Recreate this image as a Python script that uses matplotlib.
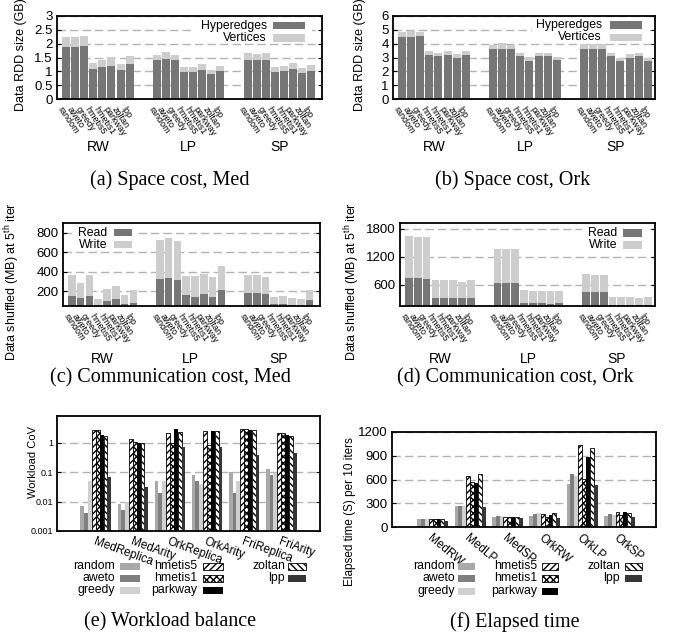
import matplotlib
matplotlib.use("Agg")
import matplotlib.pyplot as plt
from matplotlib.patches import Rectangle
from matplotlib.ticker import NullLocator
from matplotlib.transforms import ScaledTranslation, blended_transform_factory
import numpy as np

plt.rcParams["font.family"] = ["Liberation Sans", "DejaVu Sans"]
plt.rcParams["mathtext.default"] = "regular"
plt.rcParams["hatch.linewidth"] = 1.0

# ---------------- data ----------------
partitioners = ["random", "aweto", "greedy", "hmetis5", "hmetis1", "parkway", "zoltan", "lpp"]
apps = ["RW", "LP", "SP"]

# space cost (GB): rows = RW, LP, SP
med_hyperedges = [[1.89, 1.89, 1.90, 1.08, 1.17, 1.20, 1.05, 1.28],
                  [1.42, 1.46, 1.42, 0.99, 0.99, 1.05, 0.90, 1.01],
                  [1.41, 1.41, 1.41, 0.99, 1.01, 1.08, 0.95, 1.01]]
med_vertices = [[0.36, 0.36, 0.39, 0.23, 0.24, 0.31, 0.23, 0.29],
                [0.18, 0.24, 0.18, 0.17, 0.17, 0.22, 0.15, 0.19],
                [0.26, 0.23, 0.26, 0.17, 0.18, 0.22, 0.17, 0.22]]
ork_hyperedges = [[4.47, 4.47, 4.54, 3.16, 3.08, 3.16, 3.00, 3.16],
                  [3.59, 3.59, 3.59, 3.08, 2.74, 3.08, 3.08, 2.80],
                  [3.60, 3.60, 3.60, 3.08, 2.73, 3.00, 3.08, 2.73]]
ork_vertices = [[0.36, 0.43, 0.29, 0.29, 0.22, 0.29, 0.23, 0.29],
                [0.29, 0.44, 0.29, 0.22, 0.31, 0.22, 0.22, 0.20],
                [0.39, 0.39, 0.39, 0.22, 0.22, 0.23, 0.22, 0.22]]

# communication cost (MB shuffled at 5th iteration)
med_read = [[155, 135, 155, 40, 100, 120, 70, 80],
            [328, 338, 317, 162, 141, 172, 141, 214],
            [183, 183, 172, 69, 69, 59, 40, 110]]
med_write = [[214, 151, 214, 81, 124, 135, 93, 134],
             [393, 404, 394, 197, 218, 207, 207, 248],
             [186, 186, 176, 72, 83, 72, 81, 104]]
ork_read = [[750, 750, 730, 320, 320, 320, 320, 320],
            [645, 645, 645, 215, 215, 215, 195, 215],
            [450, 450, 450, 170, 170, 170, 170, 170]]
ork_write = [[900, 880, 900, 390, 390, 390, 345, 390],
             [725, 725, 725, 280, 255, 255, 275, 255],
             [385, 365, 365, 175, 175, 175, 150, 175]]

# workload balance (CoV)
cov_groups = ["MedReplica", "MedArity", "OrkReplica", "OrkArity", "FriReplica", "FriArity"]
cov_random = [0.007, 0.008, 0.05, 0.08, 0.10, 0.13]
cov_aweto = [0.004, 0.005, 0.02, 0.05, 0.02, 0.08]
cov_greedy = [0.05, 0.01, 0.05, 0.04, 0.05, 0.09]
cov_hmetis5 = [2.7, 1.3, 2.1, 2.4, 2.9, 2.1]
cov_hmetis1 = [2.7, 1.05, 0.95, 0.8, 2.8, 2.1]
cov_parkway = [1.8, 0.95, 2.8, 2.4, 2.7, 1.8]
cov_zoltan = [1.7, 0.95, 2.3, 2.4, 2.7, 1.65]
cov_lpp = [0.07, 0.03, 0.7, 0.7, 0.38, 0.45]

# elapsed time (s) per 10 iterations
time_groups = ["MedRW", "MedLP", "MedSP", "OrkRW", "OrkLP", "OrkSP"]
time_random = [95, 270, 130, 145, 540, 145]
time_aweto = [95, 260, 140, 170, 670, 170]
time_greedy = [95, 270, 140, 180, 645, 150]
time_hmetis5 = [95, 640, 125, 170, 1030, 190]
time_hmetis1 = [95, 570, 125, 125, 610, 150]
time_parkway = [95, 550, 125, 155, 880, 190]
time_zoltan = [95, 670, 125, 180, 1000, 180]
time_lpp = [80, 255, 115, 120, 525, 130]

# ---------------- styling ----------------
W, H = 688, 640
DARK = "#767676"
LIGHT = "#cdcdcd"
GRID = dict(linestyle=(0, (6, 3)), color="#b4b4b4", linewidth=1.0)
KEY_SIZE = 8.8

series_style = {
    "random": dict(color="#a9a9a9"),
    "aweto": dict(color="#7f7f7f"),
    "greedy": dict(color="#d0d0d0"),
    "hmetis5": dict(facecolor="white", edgecolor="black", hatch="/////"),
    "hmetis1": dict(facecolor="white", edgecolor="black", hatch="xxxxx"),
    "parkway": dict(color="black"),
    "zoltan": dict(facecolor="white", edgecolor="black", hatch="\\\\\\\\\\"),
    "lpp": dict(color="#363636"),
}


def bar_style(name):
    st = dict(series_style[name])
    st["linewidth"] = 0.6 if "hatch" in st else 0
    return st


fig = plt.figure(figsize=(W / 100, H / 100), dpi=100)


def px_axes(l, t, r, b):
    return fig.add_axes([l / W, 1 - b / H, (r - l) / W, (b - t) / H])


def fx(x):
    return x / W


def fy(y):
    return 1 - y / H


def frame(ax, ysize=9.5):
    for s in ax.spines.values():
        s.set_linewidth(1.3)
    ax.tick_params(axis="y", direction="in", length=3, width=0.8, right=True,
                   labelsize=ysize, pad=3)
    ax.tick_params(axis="x", length=0)
    ax.set_axisbelow(True)
    ax.yaxis.grid(True, **GRID)


def shift_labels(ax, dx, dy):
    off = ScaledTranslation(dx / 100, dy / 100, fig.dpi_scale_trans)
    for t in ax.get_xticklabels():
        t.set_transform(t.get_transform() + off)


def stacked_panel(box, lower, upper, ylim, yticks, yticklabels, group_y, xmax):
    ax = px_axes(*box)
    ticks, labels = [], []
    for g in range(len(apps)):
        x = np.arange(len(partitioners)) + 10 * g
        ax.bar(x, lower[g], width=0.88, color=DARK, linewidth=0)
        ax.bar(x, upper[g], bottom=lower[g], width=0.88, color=LIGHT, linewidth=0)
        ticks += list(x)
        labels += partitioners
    ax.set_xlim(-1, xmax)
    ax.set_ylim(*ylim)
    ax.set_yticks(yticks)
    ax.set_yticklabels(yticklabels)
    frame(ax)
    ax.set_xticks(ticks)
    ax.set_xticklabels(labels, rotation=-56, ha="left", va="top",
                       rotation_mode="anchor", fontsize=6.5)
    shift_labels(ax, -3, -1)
    tr = blended_transform_factory(ax.transData, fig.transFigure)
    for g, app in enumerate(apps):
        ax.text(3.5 + 10 * g, fy(group_y), app, transform=tr, ha="center",
                va="center", fontsize=10)
    return ax


def key(entries, y0, dy, h=7):
    for label, tx, x0, x1, row, color in entries:
        yc = y0 + row * dy
        fig.text(fx(tx), fy(yc), label, ha="right", va="center", fontsize=KEY_SIZE)
        fig.add_artist(Rectangle((fx(x0), fy(yc + h / 2)), (x1 - x0) / W, h / H,
                                 transform=fig.transFigure, facecolor=color,
                                 linewidth=0))


def white_box(l, t, r, b):
    fig.add_artist(Rectangle((fx(l), fy(b)), (r - l) / W, (b - t) / H,
                             transform=fig.transFigure, facecolor="white",
                             edgecolor="none"))


# (a) space cost, Med
stacked_panel((57, 16, 322, 99), med_hyperedges, med_vertices, (0, 3),
              [0, 0.5, 1, 1.5, 2, 2.5, 3], ["0", "0.5", "1", "1.5", "2", "2.5", "3"],
              147, 28.2)
white_box(195, 18, 312, 43)
key([("Hyperedges", 267, 273, 305, 0, DARK),
     ("Vertices", 267, 273, 305, 1, LIGHT)], 25.5, 12.5)

# (b) space cost, Ork
stacked_panel((393, 16, 655, 99), ork_hyperedges, ork_vertices, (0, 6),
              [0, 1, 2, 3, 4, 5, 6], ["0", "1", "2", "3", "4", "5", "6"], 147, 27.8)
white_box(532, 18, 650, 42)
key([("Hyperedges", 602, 610, 642, 0, DARK),
     ("Vertices", 602, 610, 642, 1, LIGHT)], 25, 12.5)

# (c) communication cost, Med
stacked_panel((63, 223, 320, 306), med_read, med_write, (50, 900),
              [200, 400, 600, 800], ["200", "400", "600", "800"], 359, 28.2)
white_box(72, 225, 137, 250)
key([("Read", 107, 114, 132, 0, DARK),
     ("Write", 107, 114, 132, 1, LIGHT)], 232.5, 12)

# (d) communication cost, Ork
stacked_panel((400, 223, 655, 306), ork_read, ork_write, (150, 1920),
              [600, 1200, 1800], ["600", "1200", "1800"], 359, 27.8)
white_box(582, 225, 650, 250)
key([("Read", 617, 623, 642, 0, DARK),
     ("Write", 617, 623, 642, 1, LIGHT)], 233, 12)


def grouped_panel(box, groups, series, xlim, rot, xoff, log=False):
    ax = px_axes(*box)
    if log:
        ax.set_yscale("log")
    n = len(series)
    w = 0.104
    base = np.arange(len(groups))
    for i, (name, vals) in enumerate(series):
        ax.bar(base + (i - (n - 1) / 2) * w, vals, width=w,
               bottom=1e-5 if log else 0, **bar_style(name))
    ax.set_xlim(*xlim)
    ax.set_xticks(base)
    ax.set_xticklabels(groups, rotation=rot, ha="left", va="top",
                       rotation_mode="anchor", fontsize=8.5)
    shift_labels(ax, xoff, -3)
    return ax


cov_series = [("random", cov_random), ("aweto", cov_aweto), ("greedy", cov_greedy),
              ("hmetis5", cov_hmetis5), ("hmetis1", cov_hmetis1), ("parkway", cov_parkway),
              ("zoltan", cov_zoltan), ("lpp", cov_lpp)]
time_series = [("random", time_random), ("aweto", time_aweto), ("greedy", time_greedy),
               ("hmetis5", time_hmetis5), ("hmetis1", time_hmetis1), ("parkway", time_parkway),
               ("zoltan", time_zoltan), ("lpp", time_lpp)]

# (e) workload balance
ax_e = grouped_panel((57, 416, 320, 531), cov_groups, cov_series, (-1.05, 6.05), -20, -9,
                     log=True)
ax_e.set_ylim(0.001, 8)
ax_e.set_yticks([0.001, 0.01, 0.1, 1])
ax_e.set_yticklabels(["0.001", "0.01", "0.1", "1"])
ax_e.yaxis.set_minor_locator(NullLocator())
frame(ax_e, ysize=6.5)

# (f) elapsed time
ax_f = grouped_panel((392, 432, 656, 527), time_groups, time_series, (-1.09, 5.98), -40, -5)
ax_f.set_ylim(0, 1200)
ax_f.set_yticks([0, 300, 600, 900, 1200])
frame(ax_f, ysize=9.5)


def series_key(cols, rows_y, h=7):
    for tx, x0, x1, names in cols:
        for r, name in enumerate(names):
            yc = rows_y[r]
            fig.text(fx(tx), fy(yc), name, ha="right", va="center", fontsize=KEY_SIZE)
            fig.add_artist(Rectangle((fx(x0), fy(yc + h / 2)), (x1 - x0) / W, h / H,
                                     transform=fig.transFigure, **bar_style(name)))


series_key([(115, 120, 140, ["random", "aweto", "greedy"]),
            (197, 203, 223, ["hmetis5", "hmetis1", "parkway"]),
            (285, 288, 306, ["zoltan", "lpp"])], [566, 578, 590])
series_key([(455, 458, 475, ["random", "aweto", "greedy"]),
            (537, 542, 558, ["hmetis5", "hmetis1", "parkway"]),
            (620, 625, 642, ["zoltan", "lpp"])], [566, 578, 591])

# axis titles
ylabels = [(21, 55, "Data RDD size (GB)", 9),
           (360, 55, "Data RDD size (GB)", 9),
           (12, 282, "Data shuffled (MB) at 5$^{th}$ iter", 9),
           (352, 282, "Data shuffled (MB) at 5$^{th}$ iter", 9),
           (33, 462, "Workload CoV", 8),
           (350, 512, "Elapsed time (S) per 10 iters", 8.5)]
for x, y, s, size in ylabels:
    fig.text(fx(x), fy(y), s, rotation=90, ha="center", va="center", fontsize=size)

# sub-figure captions
captions = [(170, 180, "(a) Space cost, Med"), (513, 180, "(b) Space cost, Ork"),
            (170, 378, "(c) Communication cost, Med"), (515, 378, "(d) Communication cost, Ork"),
            (170, 622, "(e) Workload balance"), (515, 622, "(f) Elapsed time")]
for x, y, s in captions:
    fig.text(fx(x), fy(y), s, ha="center", va="center", fontsize=14.5,
             family=["Liberation Serif", "DejaVu Serif"])

fig.savefig("out.png", dpi=100)
